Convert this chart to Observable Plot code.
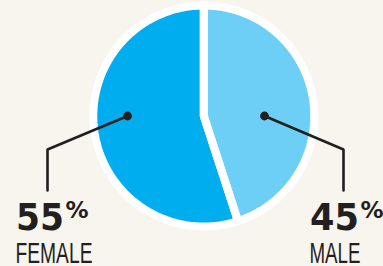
<!DOCTYPE html>
<html><head><meta charset="utf-8">
<script src="https://cdn.jsdelivr.net/npm/d3@7"></script>
<script src="https://cdn.jsdelivr.net/npm/@observablehq/plot@0.6"></script>
<style>
html,body{margin:0;padding:0;background:#f8f5ee;}
#chart svg{display:block;background:transparent;}
</style>
</head><body><div id="chart"></div>
<script>
// ---- data ----
const categories = ["MALE", "FEMALE"];
const shares = [45, 55];
const percentText = ["45", "55"];
const sliceColors = ["#6dcff6", "#00aeef"];

// ---- layout (pixels) ----
const W = 383, H = 266, CX = 203.3, CY = 115.5, R = 110.5;
const px = v => (v - CX) / R;
const py = v => (CY - v) / R;
const layout = {
  MALE:   {dot: [264, 115.5], elbow: [343, 149], end: [343, 190], numEnd: 358.5, numW: 49, pctX: 360, labelX: 309, labelW: 51},
  FEMALE: {dot: [127, 115.5], elbow: [47, 149],  end: [47, 190],  numEnd: 63.5,  numW: 48, pctX: 65,  labelX: 15,  labelW: 77}
};
const INK = "#231f20";

const rows = categories.map((c, i) => ({category: c, share: shares[i], pct: percentText[i]}));
const arcs = d3.pie().sort(null).value(d => d.share)(rows);

const slicePts = arcs.flatMap(a => {
  const c = a.data.category;
  const pts = [{category: c, x: 0, y: 0}];
  const n = Math.ceil((a.endAngle - a.startAngle) / (Math.PI / 180));
  for (let k = 0; k <= n; k++) {
    const t = a.startAngle + (a.endAngle - a.startAngle) * k / n;
    pts.push({category: c, x: Math.sin(t), y: Math.cos(t)});
  }
  pts.push({category: c, x: 0, y: 0});
  return pts;
});

const leaderPts = rows.flatMap(d => {
  const L = layout[d.category];
  return [L.dot, L.elbow, L.end].map(p => ({category: d.category, x: px(p[0]), y: py(p[1])}));
});

const chart = Plot.plot({
  width: W, height: H, margin: 0,
  x: {domain: [px(0), px(W)], axis: null},
  y: {domain: [py(H), py(0)], axis: null},
  color: {domain: categories, range: sliceColors},
  style: {background: "transparent"},
  marks: [
    Plot.dot([0], {x: () => 0, y: () => 0, r: 113.5, fill: "white", stroke: "none"}),
    Plot.line(slicePts, {x: "x", y: "y", z: "category", fill: "category", stroke: "none", curve: "linear"}),
    Plot.line(slicePts, {x: "x", y: "y", z: "category", fill: "none", stroke: "white", strokeWidth: 8, strokeLinejoin: "miter", curve: "linear"}),
    Plot.line(leaderPts, {x: "x", y: "y", z: "category", stroke: INK, strokeWidth: 2.6, strokeLinejoin: "miter", curve: "linear"}),
    Plot.dot(rows, {x: d => px(layout[d.category].dot[0]), y: d => py(layout[d.category].dot[1]), r: 4.4, fill: INK, stroke: "none"}),
    Plot.text(rows, {x: d => px(layout[d.category].numEnd), y: () => py(229), text: "pct", textAnchor: "end", lineAnchor: "bottom", fontSize: 37, fontWeight: "bold", fontFamily: "DejaVu Sans", fill: INK}),
    Plot.text(rows, {x: d => px(layout[d.category].pctX), y: () => py(217), text: () => "%", textAnchor: "start", lineAnchor: "bottom", fontSize: 23, fontWeight: "bold", fontFamily: "DejaVu Sans", fill: INK}),
    Plot.text(rows, {x: d => px(layout[d.category].labelX), y: () => py(262.5), text: "category", textAnchor: "start", lineAnchor: "bottom", fontSize: 30, fontFamily: "Liberation Sans, Arial, sans-serif", fill: INK})
  ]
});
document.getElementById("chart").appendChild(chart);

// fit condensed widths
chart.querySelectorAll("text").forEach(t => {
  const s = t.textContent.trim();
  rows.forEach(d => {
    const L = layout[d.category];
    let w = null;
    if (s === d.pct) w = L.numW;
    if (s === d.category) w = L.labelW;
    if (w != null) {
      t.setAttribute("textLength", w);
      t.setAttribute("lengthAdjust", "spacingAndGlyphs");
    }
  });
});
</script>
</body></html>
